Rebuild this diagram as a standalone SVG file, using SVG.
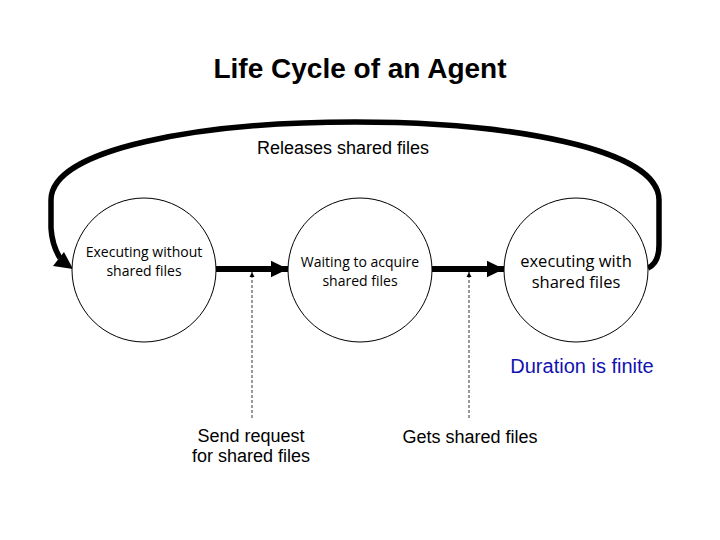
<svg xmlns="http://www.w3.org/2000/svg" width="720" height="540" viewBox="0 0 720 540">
<style>
.node{fill:#fff;stroke:#000;stroke-width:1}
.nt{font-family:"Open Sans","Noto Sans",sans-serif;font-size:14px;fill:#000;text-anchor:middle}
.lbl{font-family:"Liberation Sans",Arial,sans-serif;font-size:18px;fill:#000;text-anchor:middle}
.thick{fill:none;stroke:#000;stroke-width:6}
.dash{fill:none;stroke:#555;stroke-width:1.2;stroke-dasharray:3,2}
</style>
<defs>
<marker id="big" markerWidth="3" markerHeight="3" refX="2.9" refY="1.5" orient="auto" markerUnits="strokeWidth" viewBox="0 0 3 3"><path d="M0,0.1 L2.9,1.5 L0,2.9 Z" fill="#000"/></marker>
<marker id="small" markerWidth="6" markerHeight="6" refX="5" refY="3" orient="auto" markerUnits="userSpaceOnUse" viewBox="0 0 6 6"><path d="M0,0.5 L5,3 L0,5.5 Z" fill="#000"/></marker>
</defs>
<text x="360" y="78" font-family="Liberation Sans,Arial,sans-serif" font-size="28" font-weight="bold" text-anchor="middle">Life Cycle of an Agent</text>
<g id="connectors">
<path class="thick" d="M648 268 Q659 263 659 245 L659 200 C659 96 51 96 51 200 L51 228 Q52 245 60 258" style="stroke-width:5.5"/>
<polygon points="53,266 64,252 73,269" fill="#000"/>
<line class="thick" x1="216" y1="269" x2="288" y2="269" marker-end="url(#big)"/>
<line class="thick" x1="432" y1="269" x2="504" y2="269" marker-end="url(#big)"/>
<line class="dash" x1="252" y1="418" x2="252" y2="272" marker-end="url(#small)"/>
<line class="dash" x1="469" y1="418" x2="469" y2="272" marker-end="url(#small)"/>
</g>
<text class="lbl" x="343" y="154">Releases shared files</text>
<g id="n1"><circle class="node" cx="144" cy="270" r="72"/><text class="nt" x="144" y="257">Executing without</text><text class="nt" x="144" y="276">shared files</text></g>
<g id="n2"><circle class="node" cx="360" cy="270" r="72"/><text class="nt" x="360" y="267">Waiting to acquire</text><text class="nt" x="360" y="286">shared files</text></g>
<g id="n3"><circle class="node" cx="576" cy="270" r="72"/><text class="nt" x="576" y="267" style="font-size:16.5px">executing with</text><text class="nt" x="576" y="288" style="font-size:16.5px">shared files</text></g>
<text class="lbl" x="251" y="442">Send request</text>
<text class="lbl" x="251" y="462">for shared files</text>
<text class="lbl" x="470" y="443">Gets shared files</text>
<text class="lbl" x="582" y="373" style="font-size:20px;fill:#1212b0">Duration is finite</text>
</svg>
